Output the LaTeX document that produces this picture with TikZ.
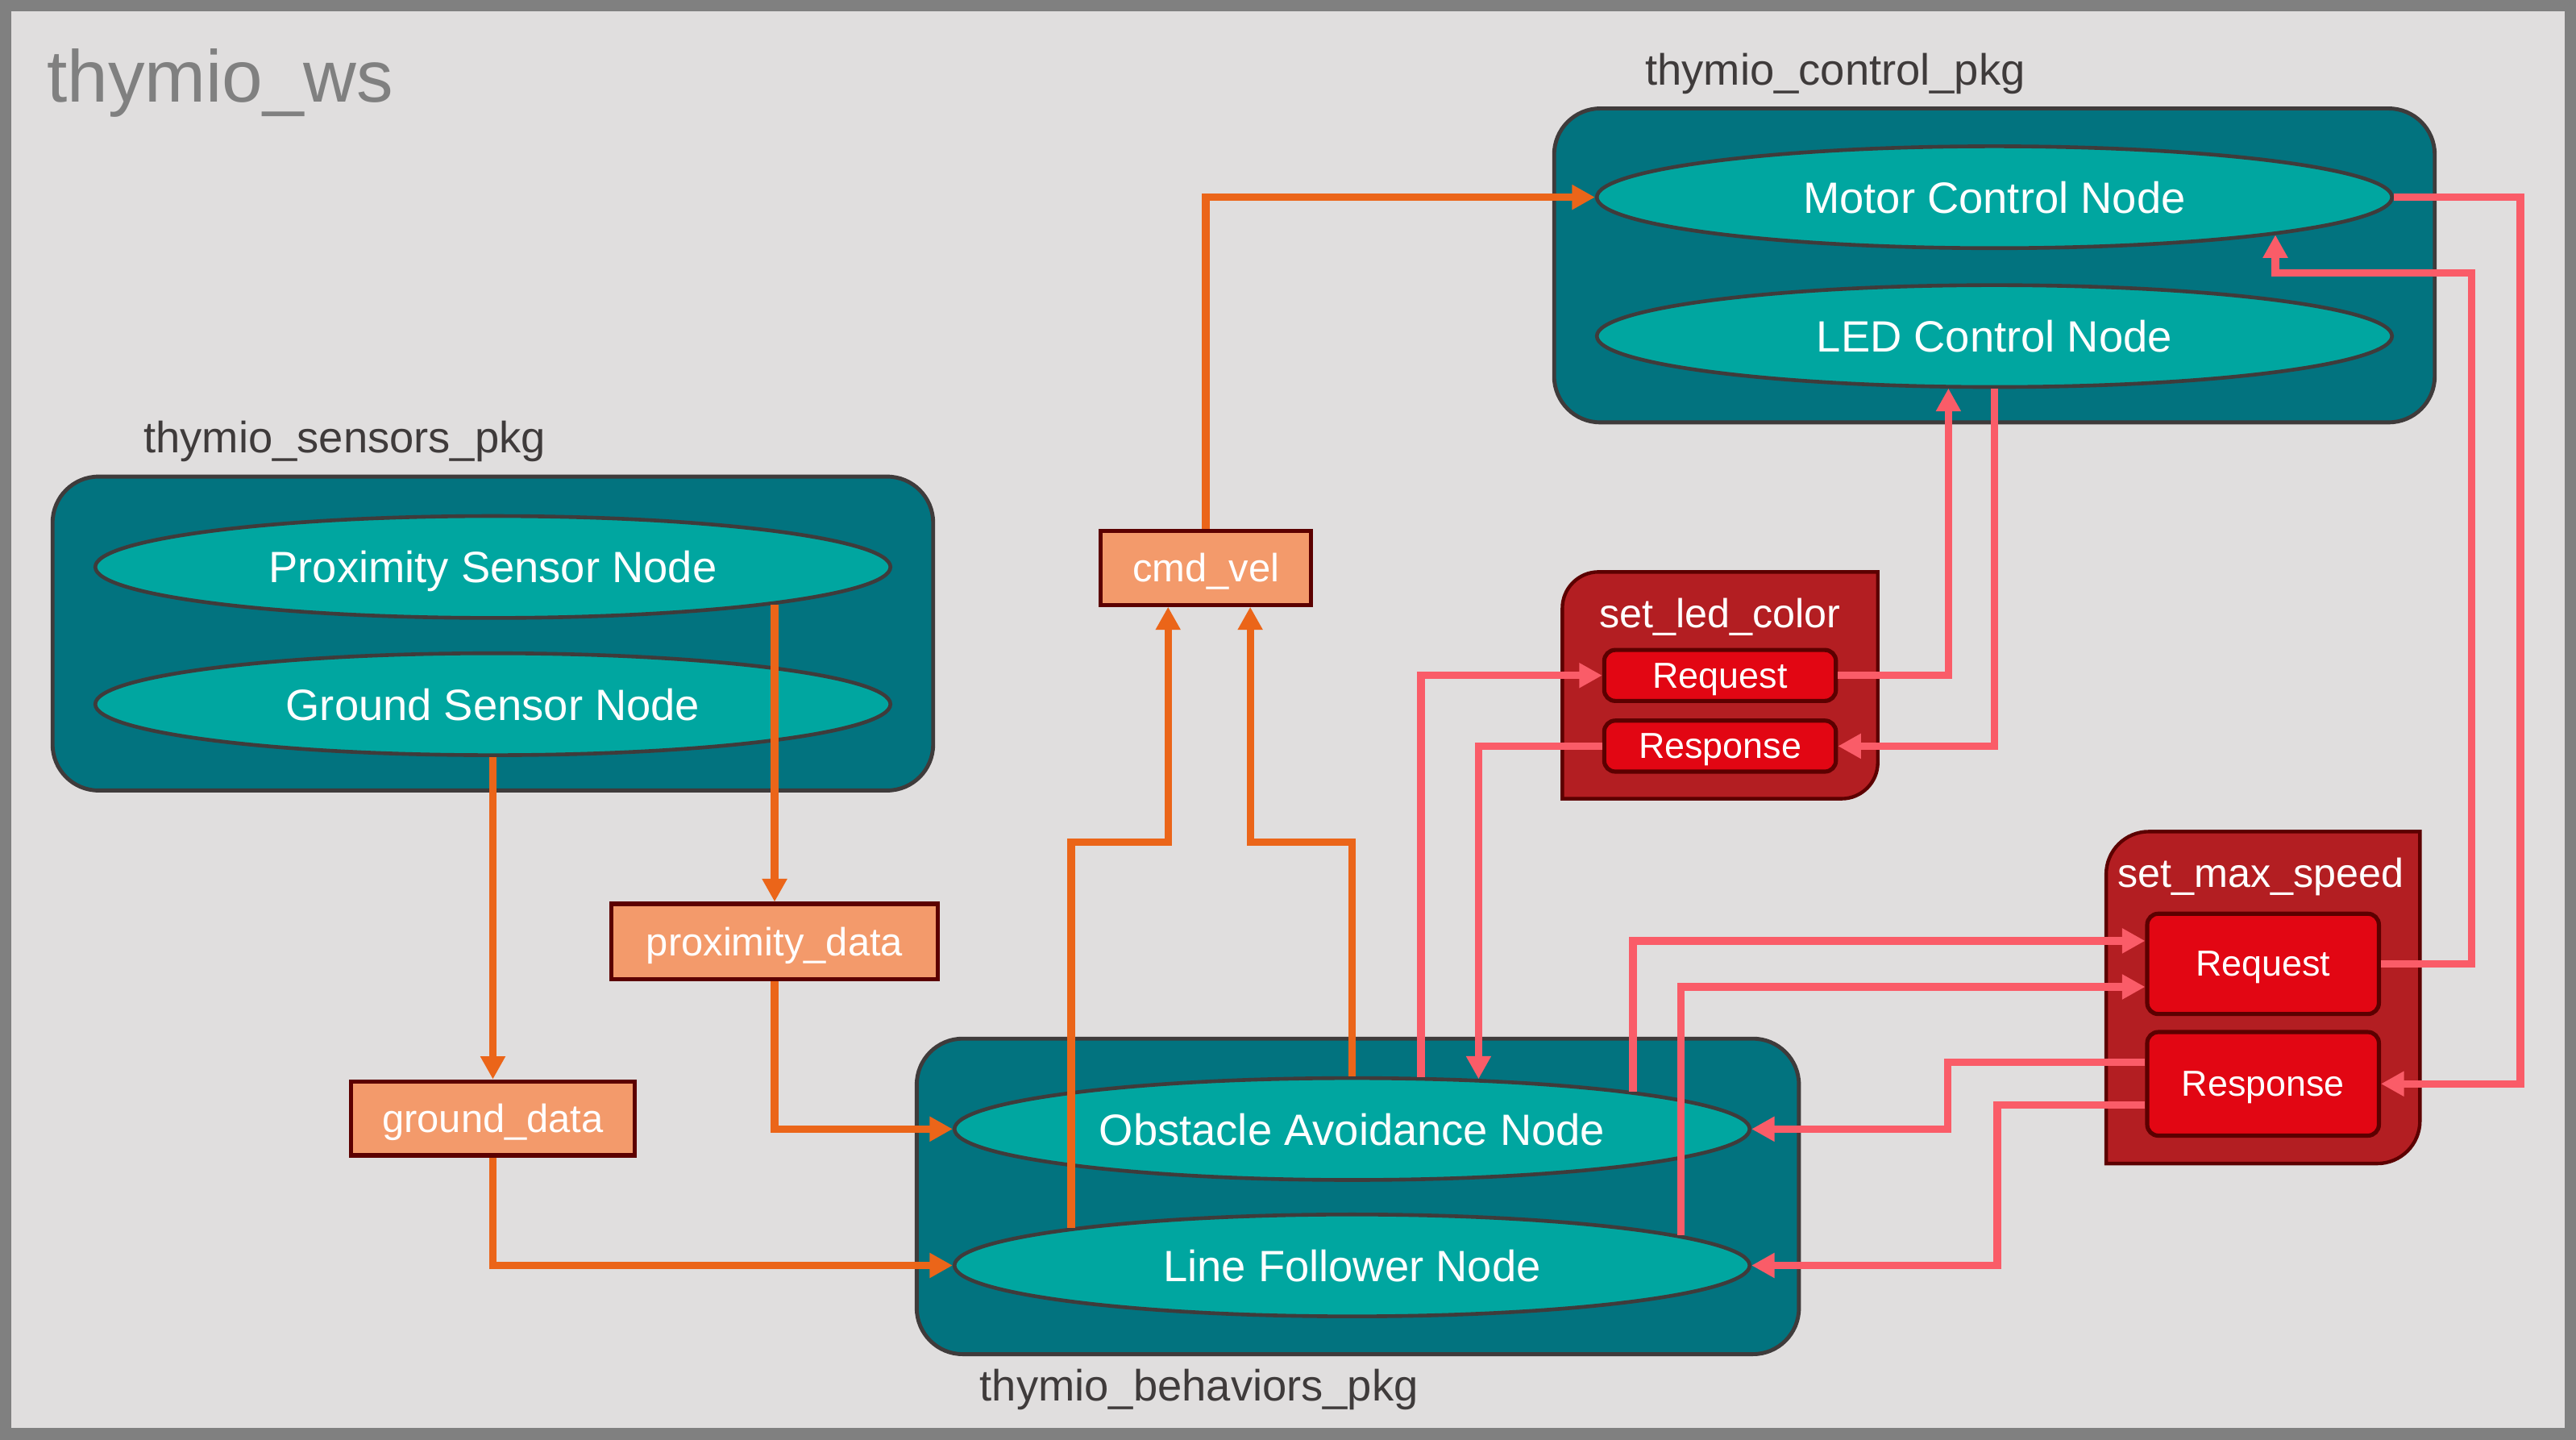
\documentclass[tikz,border=0pt]{standalone}
\usepackage{fontspec}
\setmainfont{Liberation Sans}
\usetikzlibrary{arrows.meta,calc,shapes.geometric}

\definecolor{wsback}{HTML}{E0DEDE}
\definecolor{wsframe}{HTML}{808080}
\definecolor{pkgfill}{HTML}{02737F}
\definecolor{pkgline}{HTML}{3F3B3B}
\definecolor{nodefill}{HTML}{00A6A0}
\definecolor{topicfill}{HTML}{F39A6B}
\definecolor{darkred}{HTML}{5C0000}
\definecolor{srvfill}{HTML}{B31E22}
\definecolor{msgfill}{HTML}{E20613}
\definecolor{topicline}{HTML}{EB6519}
\definecolor{srvline}{HTML}{FA5C68}

\tikzset{every picture/.style={line width=0.75pt},
  pkgbox/.style={draw=pkgline,fill=pkgfill,line width=1.8pt,rounded corners=21pt},
  pkglabel/.style={anchor=west,inner sep=0pt,text depth=0pt,text=pkgline,font=\fontsize{20}{24}\selectfont},
  rosnode/.style={ellipse,draw=pkgline,fill=nodefill,line width=1.7pt,minimum width=363pt,minimum height=46.5pt,inner sep=0pt,text depth=0pt,text=white,font=\fontsize{20}{24}\selectfont},
  topic/.style={rectangle,draw=darkred,fill=topicfill,line width=1.9pt,inner sep=0pt,text depth=0pt,minimum height=33.75pt,text=white,font=\fontsize{18}{22}\selectfont},
  srvbox/.style={draw=darkred,fill=srvfill,line width=1.6pt},
  srvtitle/.style={inner sep=0pt,text depth=0pt,text=white,font=\fontsize{18.5}{22}\selectfont},
  srvmsg/.style={rectangle,rounded corners=5pt,draw=darkred,fill=msgfill,line width=1.9pt,minimum width=105.75pt,inner sep=0pt,text depth=0pt,text=white,font=\fontsize{16.5}{20}\selectfont},
  pub/.style={draw=topicline,line width=3.4pt,-{Triangle[length=10.5pt,width=10.8pt]}},
  srv/.style={draw=srvline,line width=3.4pt,-{Triangle[length=10.5pt,width=10.8pt]}}
}

\begin{document}
\begin{tikzpicture}[x=0.75pt,y=0.75pt,yscale=-1,xscale=1]
\useasboundingbox (0,0) rectangle (1568,876);
%Shape: Workspace frame
\draw [draw=wsframe,fill=wsback,line width=5.25pt] (3.5,3.5) rectangle (1564.5,872.5) ;
% Text Node
\draw (28,62) node (wstitle) [anchor=base west,inner sep=0pt,text=wsframe,font=\fontsize{33.5}{40}\selectfont] {thymio\_ws};

%Shape: Packages
\draw [pkgbox] (946,66) rectangle (1482,257) ;
\draw [pkgbox] (32,290) rectangle (568,481) ;
\draw [pkgbox] (558,632) rectangle (1095,824) ;
% Text Node
\draw (1001,42) node (ctrlpkg) [pkglabel] {thymio\_control\_pkg};
% Text Node
\draw (87,266) node (senspkg) [pkglabel] {thymio\_sensors\_pkg};
% Text Node
\draw (596,843) node (behpkg) [pkglabel] {thymio\_behaviors\_pkg};

%Shape: Services
\draw [srvbox] (951,486) -- (951,370) .. controls (951,357.9) and (960.9,348) .. (973,348) -- (1143,348) -- (1143,464) .. controls (1143,476.1) and (1133.1,486) .. (1121,486) -- cycle ;
\draw [srvbox] (1282,708) -- (1282,532) .. controls (1282,517.6) and (1293.6,506) .. (1308,506) -- (1473,506) -- (1473,682) .. controls (1473,696.4) and (1461.4,708) .. (1447,708) -- cycle ;
% Text Node
\draw (1047,373) node (ledsrv) [srvtitle] {set\_led\_color};
% Text Node
\draw (1376,531) node (speedsrv) [srvtitle] {set\_max\_speed};
\draw (1047,411) node (lreq) [srvmsg,minimum height=23.25pt] {Request};
\draw (1047,454) node (lres) [srvmsg,minimum height=23.25pt] {Response};
\draw (1377.5,586.5) node (mreq) [srvmsg,minimum height=45.75pt] {Request};
\draw (1377.5,659.5) node (mres) [srvmsg,minimum height=47.25pt] {Response};

%Shape: Ellipse nodes
\draw (1214,120) node (motor) [rosnode] {Motor Control Node};
\draw (1214,204.5) node (led) [rosnode] {LED Control Node};
\draw (300,345) node (prox) [rosnode] {Proximity Sensor Node};
\draw (300,428.5) node (gsen) [rosnode] {Ground Sensor Node};
\draw (823,687) node (obst) [rosnode] {Obstacle Avoidance Node};
\draw (823,770) node (lf) [rosnode] {Line Follower Node};

%Shape: Topics
\draw (734,345.5) node (cmdvel) [topic,minimum width=96pt] {cmd\_vel};
\draw (471.5,573) node (pdata) [topic,minimum width=149.25pt,minimum height=34.5pt] {proximity\_data};
\draw (300,680.5) node (gdata) [topic,minimum width=129.75pt] {ground\_data};

%Straight Lines: topics
\draw [pub] ($(prox)+(171.5,23)$) -- (pdata.north) ;
\draw [pub] (gsen.south) -- (gdata.north) ;
\draw [pub] (pdata.south) |- (obst.west) ;
\draw [pub] (gdata.south) |- (lf.west) ;
\draw [pub] ($(lf)+(-171,-22.9)$) |- ($(cmdvel.south)+(-23,143)$) -- ($(cmdvel.south)+(-23,0)$) ;
\draw [pub] (obst.north) |- ($(cmdvel.south)+(27,143)$) -- ($(cmdvel.south)+(27,0)$) ;
\draw [pub] (cmdvel.north) |- (motor.west) ;

%Straight Lines: services
\draw [srv] ($(obst)+(42,-31.5)$) |- (lreq.west) ;
\draw [srv] (lreq.east) -| ($(led)+(-28,31.8)$) ;
\draw [srv] (led.south) |- (lres.east) ;
\draw [srv] (lres.west) -| ($(obst)+(77,-30.4)$) ;
\draw [srv] ($(obst)+(171,-22.9)$) |- ($(mreq.west)+(0,-14)$) ;
\draw [srv] ($(lf)+(200,-18.5)$) |- ($(mreq.west)+(0,14)$) ;
\draw [srv] (mreq.east) -- ++(55,0) |- ($(motor)+(171,46)$) -- ($(motor)+(171,22.9)$) ;
\draw [srv] (motor.east) -- ++(77,0) |- (mres.east) ;
\draw [srv] ($(mres.west)+(0,-13)$) -- ++(-120,0) |- (obst.east) ;
\draw [srv] ($(mres.west)+(0,13)$) -- ++(-90,0) |- (lf.east) ;
\end{tikzpicture}
\end{document}
